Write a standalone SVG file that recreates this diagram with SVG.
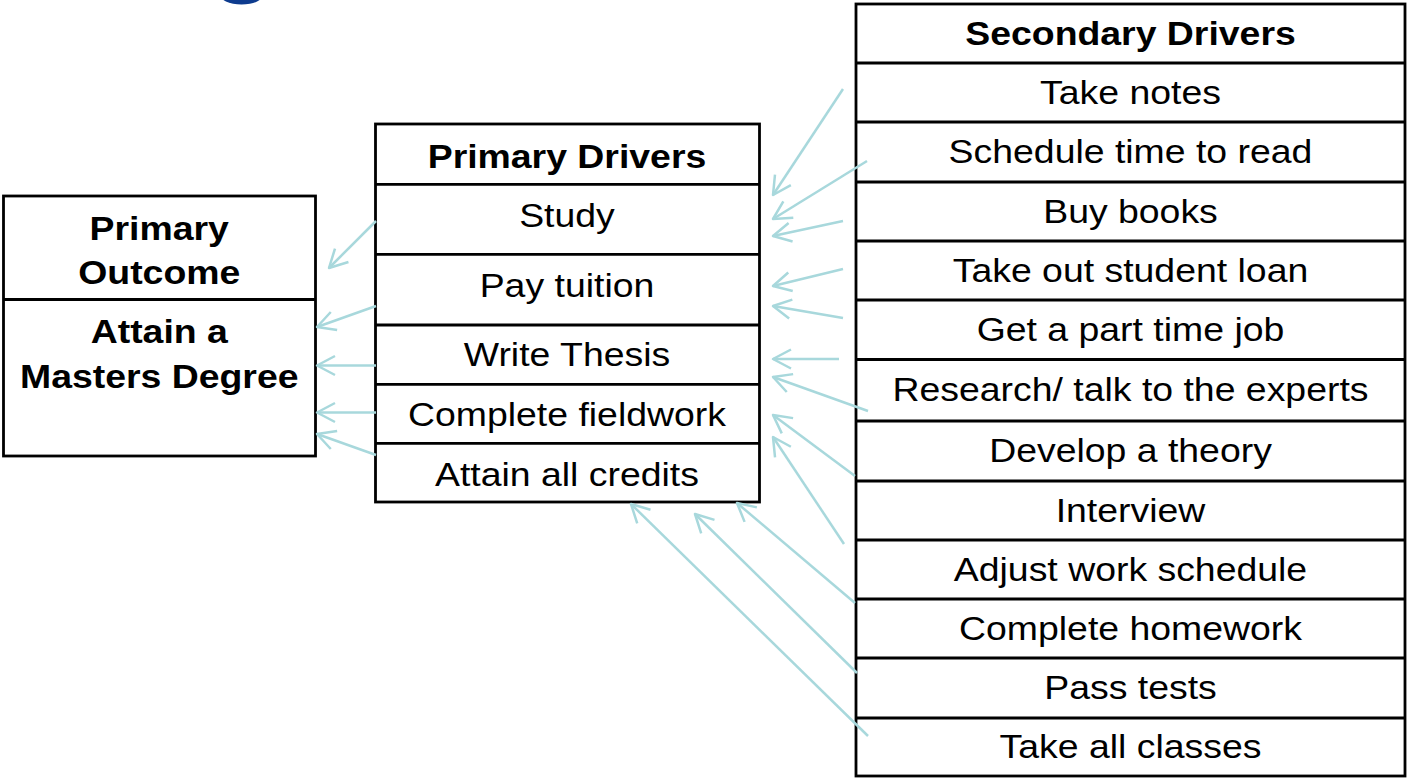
<svg xmlns="http://www.w3.org/2000/svg" width="1409" height="779" viewBox="0 0 1409 779">
<style>
.box{fill:#ffffff;stroke:#000000;stroke-width:2.8}
.div{stroke:#000000;stroke-width:2.8}
text{font-family:"Liberation Sans",Arial,sans-serif;font-size:34px;fill:#000000;text-anchor:middle}
.b{font-weight:bold}
.conn line{stroke:#a8d8dc;stroke-width:2.5;fill:none;marker-end:url(#ah)}
</style>
<defs>
<marker id="ah" markerUnits="userSpaceOnUse" viewBox="-22 -12 24 24" refX="0" refY="0" markerWidth="24" markerHeight="24" orient="auto" overflow="visible">
<path d="M-18,-9.5 L0,0 L-18,9.5" fill="none" stroke="#a8d8dc" stroke-width="2.5" stroke-linejoin="round"/>
</marker>
</defs>
<rect width="1409" height="779" fill="#ffffff"/>
<ellipse cx="241.5" cy="-6" rx="22" ry="10.5" fill="#0d3b8e"/>

<g id="primary-outcome">
<rect class="box" x="3.5" y="196" width="312" height="260"/>
<line class="div" x1="3.5" y1="299.5" x2="315.5" y2="299.5"/>
<g transform="scale(1.1 1)">
<text class="b" x="144.77" y="240">Primary</text>
<text class="b" x="144.77" y="284">Outcome</text>
<text class="b" x="144.77" y="343">Attain a</text>
<text class="b" x="144.77" y="388">Masters Degree</text>
</g>
</g>

<g id="primary-drivers">
<rect class="box" x="375.5" y="124" width="384" height="378"/>
<line class="div" x1="375.5" y1="184.3" x2="759.5" y2="184.3"/>
<line class="div" x1="375.5" y1="254.3" x2="759.5" y2="254.3"/>
<line class="div" x1="375.5" y1="325" x2="759.5" y2="325"/>
<line class="div" x1="375.5" y1="384.3" x2="759.5" y2="384.3"/>
<line class="div" x1="375.5" y1="443.3" x2="759.5" y2="443.3"/>
<g transform="scale(1.1 1)">
<text class="b" x="515.45" y="168">Primary Drivers</text>
<text x="515.45" y="227">Study</text>
<text x="515.45" y="297.5">Pay tuition</text>
<text x="515.45" y="366.5">Write Thesis</text>
<text x="515.45" y="426.5">Complete fieldwork</text>
<text x="515.45" y="486">Attain all credits</text>
</g>
</g>

<g id="secondary-drivers">
<rect class="box" x="856" y="4" width="549" height="772"/>
<line class="div" x1="856" y1="63" x2="1405" y2="63"/>
<line class="div" x1="856" y1="122" x2="1405" y2="122"/>
<line class="div" x1="856" y1="182" x2="1405" y2="182"/>
<line class="div" x1="856" y1="241" x2="1405" y2="241"/>
<line class="div" x1="856" y1="300" x2="1405" y2="300"/>
<line class="div" x1="856" y1="359.5" x2="1405" y2="359.5"/>
<line class="div" x1="856" y1="421" x2="1405" y2="421"/>
<line class="div" x1="856" y1="481" x2="1405" y2="481"/>
<line class="div" x1="856" y1="540" x2="1405" y2="540"/>
<line class="div" x1="856" y1="599" x2="1405" y2="599"/>
<line class="div" x1="856" y1="658" x2="1405" y2="658"/>
<line class="div" x1="856" y1="718" x2="1405" y2="718"/>
<g transform="scale(1.1 1)">
<text class="b" x="1027.73" y="45">Secondary Drivers</text>
<text x="1027.73" y="104">Take notes</text>
<text x="1027.73" y="163.5">Schedule time to read</text>
<text x="1027.73" y="223">Buy books</text>
<text x="1027.73" y="282">Take out student loan</text>
<text x="1027.73" y="341">Get a part time job</text>
<text x="1027.73" y="401.5">Research/ talk to the experts</text>
<text x="1027.73" y="462.5">Develop a theory</text>
<text x="1027.73" y="522">Interview</text>
<text x="1027.73" y="581">Adjust work schedule</text>
<text x="1027.73" y="640">Complete homework</text>
<text x="1027.73" y="699.5">Pass tests</text>
<text x="1027.73" y="758.5">Take all classes</text>
</g>
</g>

<g id="connectors" class="conn">
<line x1="376" y1="221" x2="329" y2="268"/>
<line x1="376" y1="306" x2="317" y2="327"/>
<line x1="376" y1="365.5" x2="317" y2="365.5"/>
<line x1="376" y1="412.5" x2="317" y2="412.5"/>
<line x1="376" y1="455" x2="317" y2="434"/>
<line x1="843" y1="89" x2="773" y2="195"/>
<line x1="867" y1="161" x2="773" y2="219"/>
<line x1="843" y1="221" x2="773" y2="236"/>
<line x1="843" y1="269" x2="773" y2="286"/>
<line x1="843" y1="318" x2="773" y2="306"/>
<line x1="839" y1="359" x2="773" y2="359"/>
<line x1="868" y1="411" x2="773" y2="377"/>
<line x1="855" y1="476" x2="773" y2="415"/>
<line x1="844" y1="544" x2="773" y2="437"/>
<line x1="855" y1="603" x2="737" y2="503"/>
<line x1="857" y1="673" x2="695" y2="514"/>
<line x1="868" y1="736" x2="631" y2="504"/>
</g>
</svg>
